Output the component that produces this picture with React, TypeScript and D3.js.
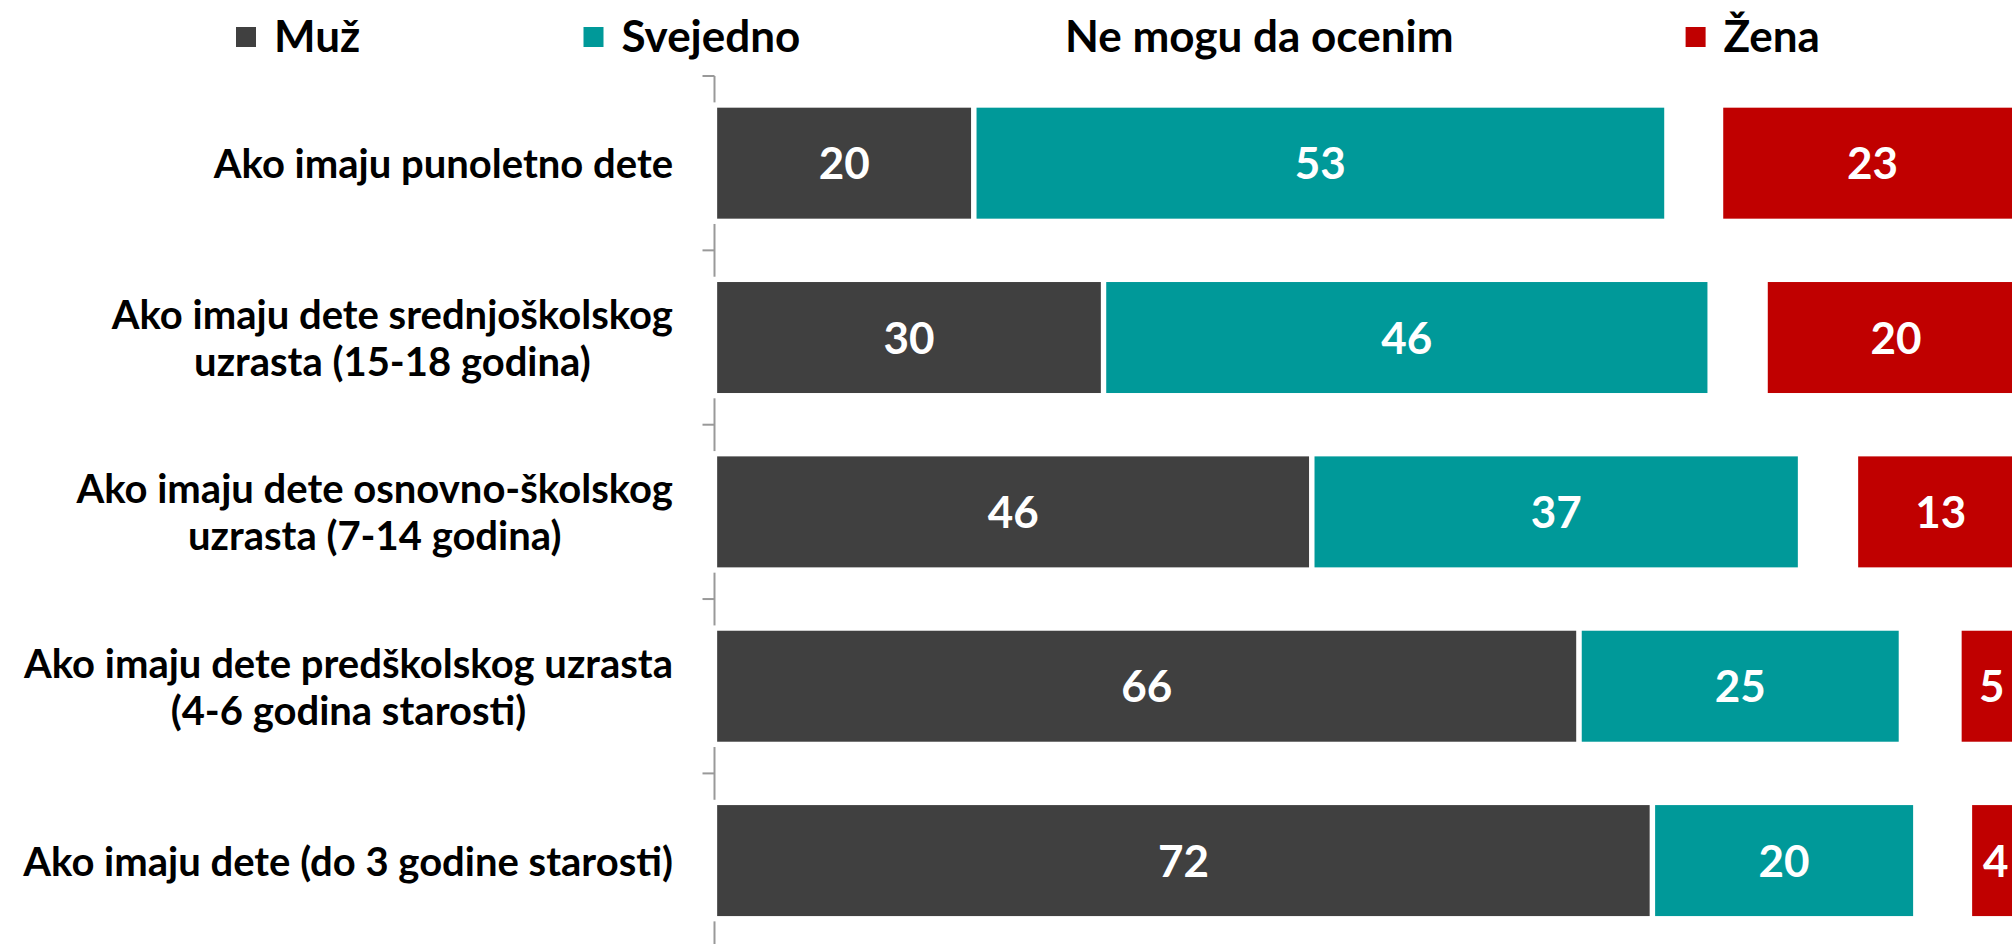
import React from "react";
import * as d3 from "d3";

// ---- data ----
const categories: string[][] = [
  ["Ako imaju punoletno dete"],
  ["Ako imaju dete srednjoškolskog", "uzrasta (15-18 godina)"],
  ["Ako imaju dete osnovno-školskog", "uzrasta (7-14 godina)"],
  ["Ako imaju dete predškolskog uzrasta", "(4-6 godina starosti)"],
  ["Ako imaju dete (do 3 godine starosti)"],
];
const seriesNames = ["Muž", "Svejedno", "Ne mogu da ocenim", "Žena"];
const muz = [19.8, 29.7, 45.6, 66.0, 71.6];
const svejedno = [52.9, 46.3, 37.3, 24.6, 20.1];
const neMogu = [4.1, 4.2, 4.2, 4.4, 4.1];
const zena = [23.2, 20.0, 13.0, 5.0, 4.0];
const seriesColors = ["#404040", "#009999", "none", "#C00000"];
const showLabel = [true, true, false, true];

// ---- layout ----
const W = 2012;
const H = 944;
const FONT = "Lato, 'Open Sans', sans-serif";
const LABEL_SIZE = 40;
const VALUE_SIZE = 44;
const LEGEND_SIZE = 44;
const AXIS_X = 714.5;
const LABEL_RIGHT = 673;
const legendX = [236, 583.5, 1027, 1685.6];

let ctx: CanvasRenderingContext2D | null = null;
function measure(text: string, size: number): number {
  if (!ctx) ctx = document.createElement("canvas").getContext("2d");
  if (!ctx) return text.length * size * 0.5;
  ctx.font = `bold ${size}px Lato`;
  return ctx.measureText(text).width;
}

export default function App() {
  const series = [muz, svejedno, neMogu, zena];
  const ids = categories.map((_, i) => String(i));
  const x = d3.scaleLinear().domain([0, 100]).range([AXIS_X, AXIS_X + 1310]);
  const y = d3
    .scaleBand<string>()
    .domain(ids)
    .range([76, 76 + 5 * 174.35])
    .paddingInner(0.333)
    .paddingOuter(0.1665);
  const step = y.step();

  const stacked = ids.map((_, i) => {
    let cum = 0;
    return series.map((s, k) => {
      const start = cum;
      cum += s[i];
      return { k, start, end: cum, v: s[i] };
    });
  });

  return (
    <svg
      width={W}
      height={H}
      style={{ position: "absolute", left: 0, top: 0, background: "#fff" }}
      fontFamily={FONT}
      fontWeight="bold"
    >
      {/* legend */}
      {seriesNames.map((name, k) => (
        <g key={name}>
          {seriesColors[k] !== "none" && (
            <rect x={legendX[k]} y={27} width={20} height={20} fill={seriesColors[k]} />
          )}
          <text x={legendX[k] + 38} y={52} fontSize={LEGEND_SIZE} fill="#000">
            {name}
          </text>
        </g>
      ))}

      {/* axis */}
      <line x1={AXIS_X} x2={AXIS_X} y1={76} y2={H} stroke="#999999" strokeWidth={2} />
      {d3.range(ids.length + 1).map((j) => {
        const ty = 76 + j * step;
        return (
          <line key={j} x1={AXIS_X - 12} x2={AXIS_X} y1={ty} y2={ty} stroke="#999999" strokeWidth={2} />
        );
      })}

      {/* bars */}
      {stacked.map((row, i) => {
        const y0 = y(ids[i]) as number;
        const bh = y.bandwidth();
        return (
          <g key={i}>
            {row.map((seg) =>
              seriesColors[seg.k] === "none" ? null : (
                <rect
                  key={seg.k}
                  x={x(seg.start)}
                  y={y0}
                  width={x(seg.end) - x(seg.start)}
                  height={bh}
                  fill={seriesColors[seg.k]}
                  stroke="#ffffff"
                  strokeWidth={5.3}
                />
              )
            )}
            {row.map((seg) =>
              showLabel[seg.k] ? (
                <text
                  key={"t" + seg.k}
                  x={(x(seg.start) + x(seg.end)) / 2}
                  y={y0 + bh / 2 + 16}
                  textAnchor="middle"
                  fontSize={VALUE_SIZE}
                  fill="#ffffff"
                >
                  {Math.round(seg.v)}
                </text>
              ) : null
            )}
          </g>
        );
      })}

      {/* category labels */}
      {categories.map((lines, i) => {
        const cy = (y(ids[i]) as number) + y.bandwidth() / 2;
        const widths = lines.map((l) => measure(l, LABEL_SIZE));
        const bw = Math.max(...widths);
        const cx = LABEL_RIGHT - bw / 2;
        const lh = 47;
        const top = cy - ((lines.length - 1) * lh) / 2;
        return (
          <g key={i}>
            {lines.map((l, j) => (
              <text key={j} x={cx} y={top + j * lh + 15} textAnchor="middle" fontSize={LABEL_SIZE} fill="#000">
                {l}
              </text>
            ))}
          </g>
        );
      })}
    </svg>
  );
}
